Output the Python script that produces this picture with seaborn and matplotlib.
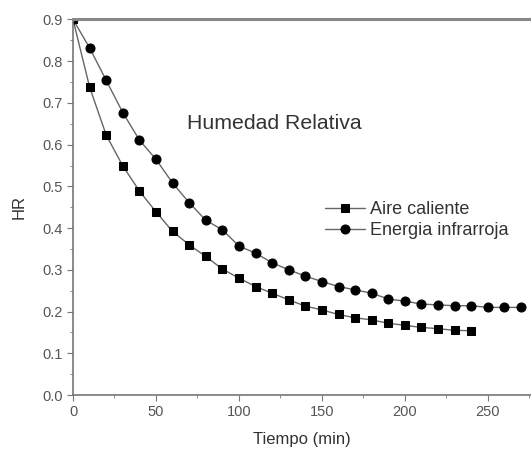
import pandas as pd
import matplotlib
matplotlib.use("Agg")
import matplotlib.pyplot as plt
import seaborn as sns
from matplotlib.ticker import MultipleLocator

# Tiempo (min) y humedad relativa
tiempo_aire = list(range(0, 250, 10))
hr_aire = [0.900, 0.738, 0.623, 0.549, 0.489, 0.439, 0.392, 0.360, 0.332, 0.302,
           0.280, 0.260, 0.244, 0.228, 0.213, 0.204, 0.193, 0.185, 0.180, 0.172,
           0.167, 0.162, 0.159, 0.155, 0.154]

tiempo_ir = list(range(0, 280, 10))
hr_ir = [0.900, 0.832, 0.754, 0.677, 0.611, 0.565, 0.508, 0.461, 0.419, 0.396,
         0.357, 0.340, 0.317, 0.300, 0.285, 0.272, 0.260, 0.252, 0.244, 0.230,
         0.225, 0.218, 0.216, 0.214, 0.214, 0.210, 0.210, 0.210]

series = ["Aire caliente", "Energia infrarroja"]
marcadores = {"Aire caliente": "s", "Energia infrarroja": "o"}

df = pd.concat([
    pd.DataFrame({"Tiempo": tiempo_aire, "HR": hr_aire, "serie": series[0]}),
    pd.DataFrame({"Tiempo": tiempo_ir, "HR": hr_ir, "serie": series[1]}),
])

sns.set_style("ticks")
plt.rcParams["font.family"] = ["Liberation Sans", "DejaVu Sans"]

fig = plt.figure(figsize=(5.31, 4.53), dpi=100)
ax = fig.add_axes([0.1375, 0.128, 0.8625, 0.829])

for nombre in series:
    sub = df[df["serie"] == nombre]
    sns.lineplot(data=sub, x="Tiempo", y="HR", ax=ax, label=nombre,
                 color="#666666", linewidth=1.0, marker=marcadores[nombre],
                 markersize=5.5 if nombre == series[0] else 6.5,
                 markerfacecolor="black", markeredgecolor="black",
                 sort=False, estimator=None)

ax.set_xlim(0, 276)
ax.set_ylim(0, 0.9)
ax.xaxis.set_major_locator(MultipleLocator(50))
ax.xaxis.set_minor_locator(MultipleLocator(25))
ax.yaxis.set_major_locator(MultipleLocator(0.1))
ax.yaxis.set_minor_locator(MultipleLocator(0.05))
ax.yaxis.set_major_formatter(plt.FormatStrFormatter("%.1f"))

for s in ["left", "bottom", "top"]:
    ax.spines[s].set_color("#777777")
    ax.spines[s].set_linewidth(1.2)
ax.spines["top"].set_linewidth(2.2)
ax.spines["top"].set_color("#888888")
ax.spines["right"].set_visible(False)

ax.tick_params(which="both", direction="out", colors="#777777", labelcolor="#555555",
               labelsize=10.5)
ax.tick_params(which="major", length=4)
ax.tick_params(which="minor", length=2.5)

ax.set_xlabel("Tiempo (min)", fontsize=12, color="#333333", labelpad=9)
ax.set_ylabel("HR", fontsize=12, color="#333333", labelpad=11)

ax.text(68.5, 0.65, "Humedad Relativa", fontsize=15.3, color="#333333", va="center")

ax.legend(loc="center left", bbox_to_anchor=(0.612, 0.514),
          bbox_transform=fig.transFigure, frameon=False, fontsize=13,
          handlelength=2.2, handletextpad=0.3, labelspacing=0.2,
          borderpad=0, borderaxespad=0, labelcolor="#333333")

fig.savefig("out.png", dpi=100)
